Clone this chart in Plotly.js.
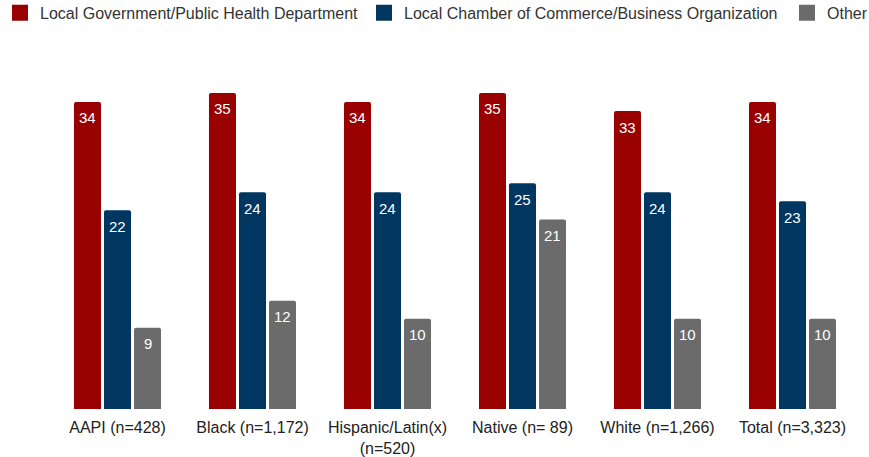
<!DOCTYPE html>
<html><head><meta charset="utf-8">
<script src="https://cdn.plot.ly/plotly-3.0.1.min.js"></script>
<style>html,body{margin:0;padding:0;background:#fff}</style>
</head><body>
<div id="chart" style="width:869px;height:457px"></div>
<script>
const categories = ["AAPI (n=428)", "Black (n=1,172)", "Hispanic/Latin(x)<br>(n=520)", "Native (n= 89)", "White (n=1,266)", "Total (n=3,323)"];
const localGov = [34, 35, 34, 35, 33, 34];
const chamber = [22, 24, 24, 25, 24, 23];
const other = [9, 12, 10, 21, 10, 10];
const seriesNames = ["Local Government/Public Health Department", "Local Chamber of Commerce/Business Organization", "Other"];
const colors = ["#990000", "#003660", "#6b6b6b"];
const FONT = 'Liberation Sans, Arial, sans-serif';
const series = [localGov, chamber, other];
const legendIds = ['legend', 'legend2', 'legend3'];
const legendX = [0, 364, 787];

const data = series.map((vals, i) => ({
  type: 'bar', x: categories, y: vals, name: seriesNames[i],
  marker: {color: colors[i]}, hoverinfo: 'none', showlegend: false
}));
// legend-only entries with larger square swatches
series.forEach((vals, i) => {
  data.push({
    type: 'scatter', mode: 'markers', x: [null], y: [null], name: seriesNames[i],
    marker: {color: colors[i], symbol: 'square', size: 16},
    legend: legendIds[i], showlegend: true, hoverinfo: 'none'
  });
});

const annotations = [];
series.forEach((vals, i) => {
  vals.forEach((v, j) => {
    annotations.push({
      x: categories[j], y: v, xref: 'x', yref: 'y', text: String(v),
      showarrow: false, xshift: (i - 1) * 30, yshift: -16,
      yanchor: 'middle', xanchor: 'center',
      font: {color: '#ffffff', size: 15, family: FONT}
    });
  });
});

const layout = {
  width: 869, height: 457,
  margin: {l: 50, r: 9, t: 60, b: 48, autoexpand: false},
  barmode: 'group', bargap: 0.333, bargroupgap: 0.1, barcornerradius: 2,
  font: {family: FONT, size: 16, color: '#222'},
  xaxis: {showline: false, ticks: '', tickfont: {size: 16, color: '#222'}, ticklabelstandoff: 7},
  yaxis: {range: [0, 38.65], visible: false, showgrid: false, zeroline: false},
  annotations: annotations,
  paper_bgcolor: '#fff', plot_bgcolor: '#fff'
};
legendIds.forEach((id, i) => {
  layout[id] = {orientation: 'h', xref: 'container', yref: 'container', x: legendX[i] / 869, xanchor: 'left',
    y: 0.972, yanchor: 'middle', font: {size: 16, color: '#333'}, itemwidth: 30, bgcolor: 'rgba(0,0,0,0)'};
});
Plotly.newPlot('chart', data, layout, {displayModeBar: false, staticPlot: true});
</script>
</body></html>
